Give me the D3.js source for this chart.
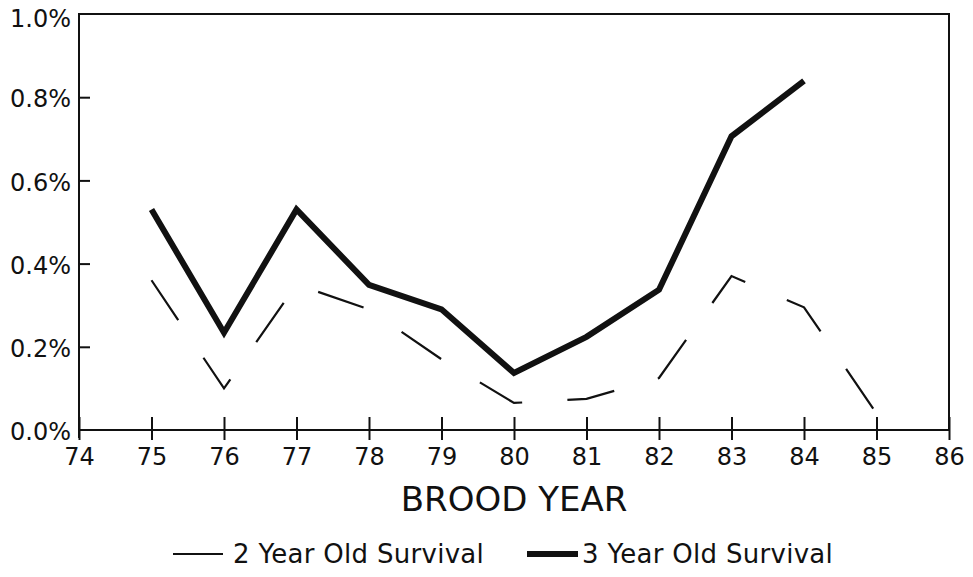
<!DOCTYPE html>
<html>
<head>
<meta charset="utf-8">
<script src="https://cdn.jsdelivr.net/npm/d3@7"></script>
<style>
  body { margin: 0; background: #fff; }
  text { font-family: "DejaVu Sans", sans-serif; fill: #111; }
</style>
</head>
<body>
<svg id="chart"></svg>
<script>
// data
const years2 = [75, 76, 77, 78, 79, 80, 81, 82, 83, 84, 85]
const survival2 = [0.36, 0.10, 0.35, 0.29, 0.17, 0.065, 0.075, 0.125, 0.37, 0.295, 0.04]
const years3 = [75, 76, 77, 78, 79, 80, 81, 82, 83, 84]
const survival3 = [0.53, 0.234, 0.53, 0.349, 0.29, 0.137, 0.224, 0.337, 0.706, 0.839]
const xTicks = [74, 75, 76, 77, 78, 79, 80, 81, 82, 83, 84, 85, 86]
const yTicks = [0, 0.2, 0.4, 0.6, 0.8, 1.0]
const seriesNames = ['2 Year Old Survival', '3 Year Old Survival']

// constants
const width = 973
const height = 577
const margin = { left: 79, right: 24, top: 14, bottom: 147 }
const ink = '#111'

const svg = d3.select('svg#chart').attr('width', width).attr('height', height)

const x = d3.scaleLinear().domain([74, 86]).range([margin.left, width - margin.right])
const y = d3.scaleLinear().domain([0, 1.0]).range([height - margin.bottom, margin.top])

// frame
svg.append('rect')
  .attr('x', x(74)).attr('y', y(1.0))
  .attr('width', x(86) - x(74)).attr('height', y(0) - y(1.0))
  .attr('fill', 'none').attr('stroke', ink).attr('stroke-width', 2)

// x axis: ticks cross the baseline
const xAxis = svg.append('g')
  .attr('transform', 'translate(0,' + y(0) + ')')
  .call(d3.axisBottom(x).tickValues(xTicks).tickFormat(d3.format('d')).tickSize(10).tickPadding(8))
xAxis.select('.domain').remove()
xAxis.selectAll('.tick line')
  .attr('y1', -13).attr('stroke', ink).attr('stroke-width', 2)
xAxis.selectAll('.tick text')
  .attr('font-size', 24).attr('font-family', '"DejaVu Sans", sans-serif').attr('fill', ink)

// y axis: ticks point inward
const yAxis = svg.append('g')
  .attr('transform', 'translate(' + x(74) + ',0)')
  .call(d3.axisLeft(y).tickValues(yTicks).tickFormat(d => d.toFixed(1) + '%').tickSize(0).tickPadding(8))
yAxis.select('.domain').remove()
yAxis.selectAll('.tick line')
  .attr('x2', d => (d === 0 || d === 1.0) ? 0 : 11).attr('stroke', ink).attr('stroke-width', 2)
yAxis.selectAll('.tick text')
  .attr('font-size', 24).attr('font-family', '"DejaVu Sans", sans-serif').attr('fill', ink)
  .attr('dy', d => d === 1.0 ? '0.5em' : '0.4em')

// little stub below the corner of the y axis
svg.append('line')
  .attr('x1', x(74)).attr('x2', x(74)).attr('y1', y(0)).attr('y2', y(0) + 8)
  .attr('stroke', ink).attr('stroke-width', 2)

const line = d3.line().x(d => x(d[0])).y(d => y(d[1]))

// 2 year old survival: thin dashed
svg.append('path')
  .datum(d3.zip(years2, survival2))
  .attr('d', line)
  .attr('fill', 'none').attr('stroke', ink)
  .attr('stroke-width', 2.2)
  .attr('stroke-dasharray', '48,45.3')

// 3 year old survival: thick solid
svg.append('path')
  .datum(d3.zip(years3, survival3))
  .attr('d', line)
  .attr('fill', 'none').attr('stroke', ink)
  .attr('stroke-width', 6)
  .attr('stroke-linejoin', 'miter')

// axis title
svg.append('text')
  .attr('x', 514).attr('y', 511)
  .attr('text-anchor', 'middle')
  .attr('font-size', 34)
  .text('BROOD YEAR')

// legend
const legend = svg.append('g')
legend.append('line')
  .attr('x1', 173).attr('x2', 223).attr('y1', 554).attr('y2', 554)
  .attr('stroke', ink).attr('stroke-width', 2.2)
legend.append('text')
  .attr('x', 233).attr('y', 563).attr('font-size', 26).attr('letter-spacing', 0.3)
  .text(seriesNames[0])
legend.append('line')
  .attr('x1', 527).attr('x2', 578).attr('y1', 554).attr('y2', 554)
  .attr('stroke', ink).attr('stroke-width', 6)
legend.append('text')
  .attr('x', 582).attr('y', 563).attr('font-size', 26).attr('letter-spacing', 0.3)
  .text(seriesNames[1])
</script>
</body>
</html>
